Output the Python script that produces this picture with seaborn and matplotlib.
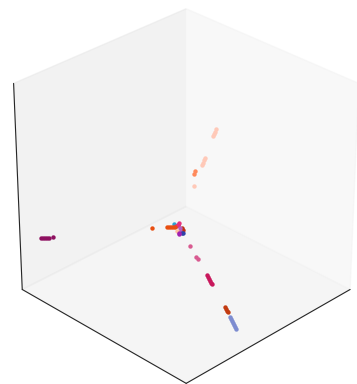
import numpy as np
import pandas as pd
import matplotlib
matplotlib.use("Agg")
import matplotlib.pyplot as plt
import seaborn as sns

sns.set_style("white")

categories = ["a", "b", "c", "d", "e", "f", "g", "h", "i", "j", "k", "l", "m", "n", "o", "p"]
colors = ["#ffc9b8", "#ff8a5c", "#8e1060", "#c23a10", "#7d8cd0", "#c8185c", "#d85a90", "#e84e10",
          "#c03010", "#30a0d0", "#e8307a", "#b060c0", "#6030a0", "#ffc0a0", "#3040a8", "#a020b0"]
x_values = [
    [.363, .385, .400, .415, .572, .587, .608, .622, .767],
    [.490, .511],
    [.981, .975, .969, .963, .957, .939],
    [.537, .545, .553, .556],
    [.577, .585, .593, .601, .609, .617, .625],
    [.467, .475, .483, .492, .500, .503],
    [.408, .453, .459],
    [.592, .541, .535, .529, .523, .517],
    [.502, .510],
    [.502],
    [.481, .496, .508],
    [.508, .525],
    [.496],
    [.534],
    [.528, .531],
    [.546, .540],
]
y_values = [
    [.539, .555, .564, .573, .681, .690, .704, .713, .811],
    [.542, .557],
    [.114, .120, .126, .131, .137, .143],
    [.769, .782, .796, .805],
    [.837, .851, .864, .878, .891, .905, .918],
    [.593, .607, .621, .635, .649, .658],
    [.431, .513, .531],
    [.386, .426, .432, .438, .444, .450],
    [.477, .491],
    [.429],
    [.438, .447, .447],
    [.471, .488],
    [.447],
    [.479],
    [.509, .506],
    [.503, .497],
]
z_values = [0.75, 0.6, 0.3, 0.05, 0.05, 0.1, 0.15, 0.3, 0.3, 0.3, 0.3, 0.3, 0.3, 0.3, 0.3, 0.3]

palette = sns.color_palette(colors)

fig = plt.figure(figsize=(3.57, 3.84), dpi=100)
ax = fig.add_axes([0.008, -0.005, 1, 1], projection="3d")
ax.view_init(elev=30, azim=45)
ax.set_proj_type("persp", focal_length=1.2)
ax.set_xlim(0, 1)
ax.set_ylim(0, 1)
ax.set_zlim(0, 1)
ax.set_box_aspect((1, 1, 1), zoom=1.12)
ax.set_xticks([])
ax.set_yticks([])
ax.set_zticks([])
ax.grid(False)

for name, col, xs, ys, z in zip(categories, palette, x_values, y_values, z_values):
    df = pd.DataFrame({"x": xs, "y": ys, "z": z})
    ax.scatter(df["x"], df["y"], df["z"], color=col, s=10, depthshade=False, linewidths=0, label=name)

fig.savefig("out.png", dpi=100)
